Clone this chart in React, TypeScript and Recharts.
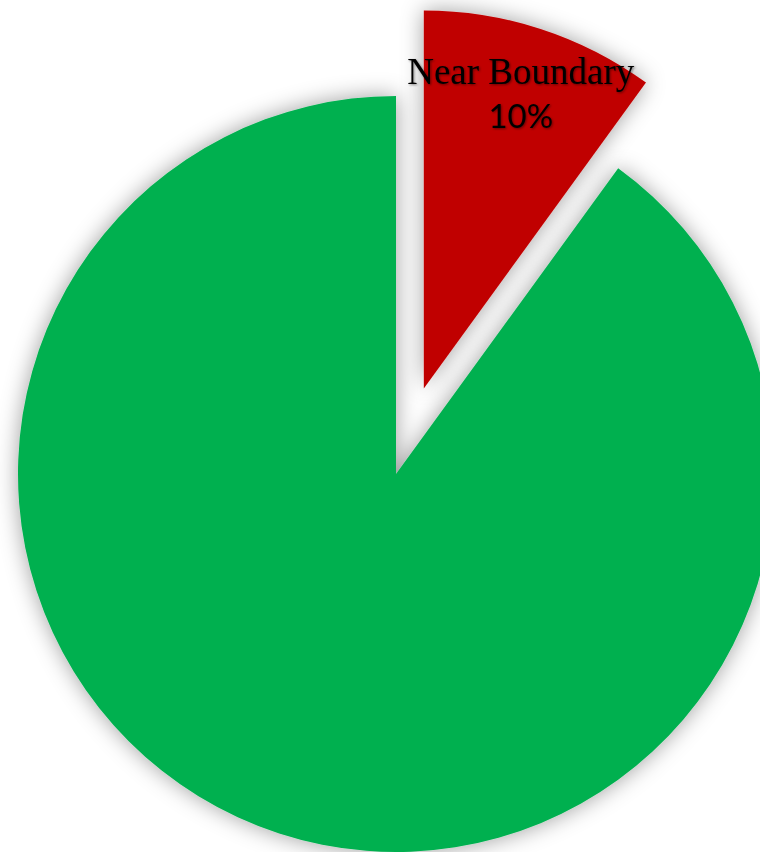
import { Cell, Pie, PieChart } from "recharts";

const categories = ["Near Boundary", "Within Boundary"];
const shares = [10, 90];
const colors = ["#C00000", "#00B050"];

const data = categories.map((name, i) => ({ name, value: shares[i] }));

// the small slice is pulled out from the center
const EXPLODE = 90;
const CX = 396;
const CY = 474;
const RADIUS = 378;
const RAD = Math.PI / 180;

function renderLabel(props: any) {
  const { cx, cy, midAngle, outerRadius, index, value } = props;
  if (index !== 0) return null;
  const r = outerRadius * 0.83;
  const x = cx + r * Math.cos(-midAngle * RAD);
  const y = cy + r * Math.sin(-midAngle * RAD);
  return (
    <text
      x={x}
      y={y}
      textAnchor="middle"
      fill="#000"
      filter="url(#textShadow)"
    >
      <tspan
        x={x}
        dy={-6}
        style={{ fontFamily: "'Liberation Serif', serif", fontSize: 37 }}
      >
        {categories[index]}
      </tspan>
      <tspan
        x={x}
        dy={44}
        style={{ fontFamily: "Lato, 'Liberation Sans', sans-serif", fontSize: 33 }}
      >
        {`${value}%`}
      </tspan>
    </text>
  );
}

export default function App() {
  const mid = (90 - (shares[0] / 2 / 100) * 360) * RAD;
  const dx = EXPLODE * Math.cos(mid);
  const dy = -EXPLODE * Math.sin(mid);

  return (
    <div style={{ position: "absolute", left: 0, top: 0, width: 760, height: 852, overflow: "hidden", background: "#fff" }}>
      <PieChart width={760} height={852} margin={{ top: 0, right: 0, bottom: 0, left: 0 }}>
        <defs>
          <filter id="pieShadow" x="-20%" y="-20%" width="140%" height="140%">
            <feDropShadow dx={0} dy={0} stdDeviation={11} floodColor="#000" floodOpacity={0.38} />
          </filter>
          <filter id="textShadow" x="-10%" y="-20%" width="120%" height="140%">
            <feDropShadow dx={1} dy={1} stdDeviation={1.2} floodColor="#000" floodOpacity={0.45} />
          </filter>
        </defs>
        {/* main pie, small slice hidden */}
        <Pie
          data={data}
          dataKey="value"
          cx={CX}
          cy={CY}
          outerRadius={RADIUS}
          startAngle={90}
          endAngle={-270}
          stroke="none"
          isAnimationActive={false}
        >
          {data.map((d, i) => (
            <Cell
              key={d.name}
              fill={i === 0 ? "transparent" : colors[i]}
              filter={i === 0 ? undefined : "url(#pieShadow)"}
            />
          ))}
        </Pie>
        {/* exploded slice */}
        <Pie
          data={data}
          dataKey="value"
          cx={CX + dx}
          cy={CY + dy}
          outerRadius={RADIUS}
          startAngle={90}
          endAngle={-270}
          stroke="none"
          label={renderLabel}
          labelLine={false}
          isAnimationActive={false}
        >
          {data.map((d, i) => (
            <Cell
              key={d.name}
              fill={i === 0 ? colors[i] : "transparent"}
              filter={i === 0 ? "url(#pieShadow)" : undefined}
            />
          ))}
        </Pie>
      </PieChart>
    </div>
  );
}
